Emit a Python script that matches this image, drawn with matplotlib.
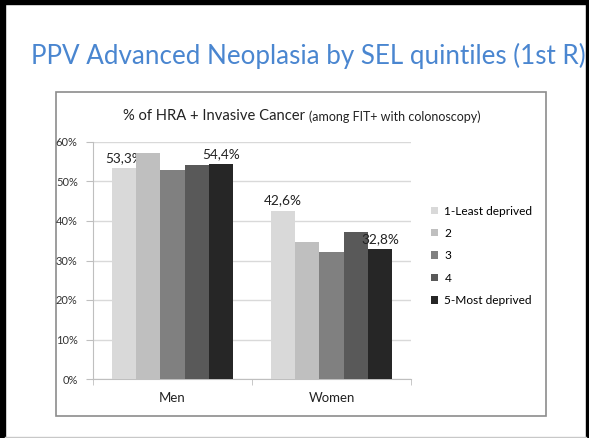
import matplotlib
matplotlib.use("Agg")
import matplotlib.pyplot as plt
from matplotlib.patches import Rectangle
import numpy as np

plt.rcParams['font.family'] = ['Lato', 'DejaVu Sans']

# data
categories = ["Men", "Women"]
quintiles = ["1-Least deprived", "2", "3", "4", "5-Most deprived"]
values = [
    [53.3, 42.6],
    [57.1, 34.8],
    [52.8, 32.2],
    [54.3, 37.3],
    [54.4, 32.8],
]
labels = [
    ["53,3%", "42,6%"],
    ["", ""],
    ["", ""],
    ["", ""],
    ["54,4%", "32,8%"],
]
colors = ["#d9d9d9", "#bfbfbf", "#808080", "#595959", "#262626"]
yticks = [0, 10, 20, 30, 40, 50, 60]

W, H = 589, 438
fig = plt.figure(figsize=(W / 100, H / 100), dpi=100)
fig.patch.set_facecolor("white")

def px(x0, y0, w, h):
    return [x0 / W, 1 - (y0 + h) / H, w / W, h / H]

# slide frame
bg = fig.add_axes([0, 0, 1, 1])
bg.set_xlim(0, W)
bg.set_ylim(H, 0)
bg.axis("off")
bg.add_patch(Rectangle((0, 0), 5, H, color="black"))
bg.add_patch(Rectangle((0, 0), W, 4, color="black"))
bg.add_patch(Rectangle((586, 0), 3, H, color="black"))
bg.plot([5, 586], [437, 437], color="#c8c8c8", lw=1)
bg.add_patch(Rectangle((56, 92), 490, 324, fill=False, ec="#8c8c8c", lw=1.2))

bg.text(308, 56, "PPV Advanced Neoplasia by SEL quintiles (1st R)",
        fontsize=18.7, color="#4a86d0", ha="center", va="center")

t1 = bg.text(123, 123, "% of HRA + Invasive Cancer", fontsize=10.6,
             color="#222222", ha="left", va="bottom")
bg.annotate("(among FIT+ with colonoscopy)", xy=(1, 0), xycoords=t1,
            xytext=(3, 0), textcoords="offset points",
            fontsize=9, color="#222222", ha="left", va="bottom")

# chart
ax = fig.add_axes(px(93, 142, 318, 237))
x = np.arange(len(categories))
bw = 0.153
for i, q in enumerate(quintiles):
    pos = x + (i - 2) * bw
    bars = ax.bar(pos, values[i], bw, color=colors[i], label=q, zorder=3)
    for b, lab in zip(bars, labels[i]):
        if lab:
            ax.annotate(lab, (b.get_x() + b.get_width() / 2, b.get_height()),
                        xytext=(0, 3), textcoords="offset points",
                        ha="center", va="bottom", fontsize=9.8, color="#222222")

ax.set_xlim(-0.5, 1.5)
ax.set_ylim(0, 60)
ax.set_yticks(yticks)
ax.set_yticklabels([f"{v}%" for v in yticks], fontsize=8, color="#333333")
ax.yaxis.grid(True, color="#d9d9d9", lw=1, zorder=0)
ax.set_xticks(x)
ax.set_xticklabels(categories, fontsize=9.5, color="#222222")
ax.set_xticks([-0.5, 0.5, 1.5], minor=True)
ax.tick_params(axis="x", which="major", length=0, pad=9)
ax.tick_params(axis="x", which="minor", length=4, color="#bfbfbf")
ax.tick_params(axis="y", length=5, color="#bfbfbf", pad=6)
for s in ["top", "right"]:
    ax.spines[s].set_visible(False)
ax.spines["left"].set_color("#bfbfbf")
ax.spines["bottom"].set_color("#bfbfbf")

ax.legend(loc="center left", bbox_to_anchor=(1.03, 0.52), frameon=False,
          fontsize=8.6, handlelength=0.6, handleheight=0.6,
          handletextpad=0.5, labelspacing=0.95)

fig.savefig("out.png", dpi=100)
